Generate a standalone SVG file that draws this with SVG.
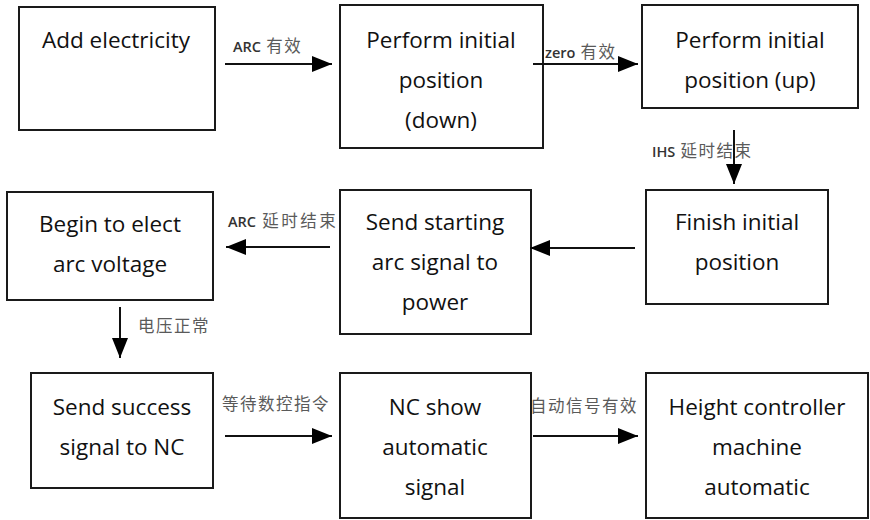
<svg xmlns="http://www.w3.org/2000/svg" width="870" height="520" viewBox="0 0 870 520">
<style>
.box{fill:#fff;stroke:#1a1a1a;stroke-width:2}
.t{font-family:"Open Sans","Liberation Sans",sans-serif;font-size:22.5px;fill:#111;text-anchor:middle}
.l{font-family:"Noto Sans CJK SC",sans-serif;font-size:16.5px;fill:#5a5a5a;letter-spacing:1.5px}
.e{font-family:"Open Sans","Liberation Sans",sans-serif;font-size:14.5px;font-weight:600;fill:#333;letter-spacing:0}
.c{stroke:#111;stroke-width:2;fill:none}
</style>
<defs>
<marker id="ah" markerWidth="20" markerHeight="16" refX="20" refY="8" orient="auto" markerUnits="userSpaceOnUse">
<path d="M0,0 L20,8 L0,16 Z" fill="#000"/>
</marker>
</defs>
<rect width="870" height="520" fill="#fff"/>
<g id="n1"><rect class="box" x="19" y="7" width="196" height="123"/><text class="t" x="116" y="48">Add electricity</text></g>
<g id="n2"><rect class="box" x="340" y="5" width="203" height="143"/><text class="t" x="441" y="48">Perform initial</text><text class="t" x="441" y="88">position</text><text class="t" x="441" y="128">(down)</text></g>
<g id="n3"><rect class="box" x="642" y="5" width="216" height="103"/><text class="t" x="750" y="48">Perform initial</text><text class="t" x="750" y="88">position (up)</text></g>
<g id="n4"><rect class="box" x="646" y="190" width="182" height="114"/><text class="t" x="737" y="230">Finish initial</text><text class="t" x="737" y="270">position</text></g>
<g id="n5"><rect class="box" x="340" y="190" width="191" height="144"/><text class="t" x="435" y="230">Send starting</text><text class="t" x="435" y="270">arc signal to</text><text class="t" x="435" y="310">power</text></g>
<g id="n6"><rect class="box" x="7" y="192" width="206" height="108"/><text class="t" x="110" y="232">Begin to elect</text><text class="t" x="110" y="272">arc voltage</text></g>
<g id="n7"><rect class="box" x="31" y="373" width="182" height="115"/><text class="t" x="122" y="415">Send success</text><text class="t" x="122" y="455">signal to NC</text></g>
<g id="n8"><rect class="box" x="340" y="373" width="191" height="145"/><text class="t" x="435" y="415">NC show</text><text class="t" x="435" y="455">automatic</text><text class="t" x="435" y="495">signal</text></g>
<g id="n9"><rect class="box" x="646" y="373" width="222" height="145"/><text class="t" x="757" y="415">Height controller</text><text class="t" x="757" y="455">machine</text><text class="t" x="757" y="495">automatic</text></g>
<g id="connectors">
<line class="c" x1="225" y1="64" x2="332" y2="64" marker-end="url(#ah)"/>
<line class="c" x1="533" y1="64" x2="638" y2="64" marker-end="url(#ah)"/>
<line class="c" x1="734" y1="130" x2="734" y2="184" marker-end="url(#ah)"/>
<line class="c" x1="635" y1="248" x2="530" y2="248" marker-end="url(#ah)"/>
<line class="c" x1="330" y1="247" x2="226" y2="247" marker-end="url(#ah)"/>
<line class="c" x1="120" y1="307" x2="120" y2="358" marker-end="url(#ah)"/>
<line class="c" x1="225" y1="436" x2="332" y2="436" marker-end="url(#ah)"/>
<line class="c" x1="533" y1="436" x2="638" y2="436" marker-end="url(#ah)"/>
<text class="l" x="233" y="52"><tspan class="e">ARC</tspan> 有效</text>
<text class="l" x="545" y="58"><tspan class="e">zero</tspan> 有效</text>
<text class="l" x="652" y="157"><tspan class="e">IHS</tspan> 延时结束</text>
<text class="l" x="228" y="227" style="letter-spacing:2.5px"><tspan class="e">ARC</tspan> 延时结束</text>
<text class="l" x="138" y="332">电压正常</text>
<text class="l" x="222" y="410">等待数控指令</text>
<text class="l" x="530" y="412">自动信号有效</text>
</g>
</svg>
